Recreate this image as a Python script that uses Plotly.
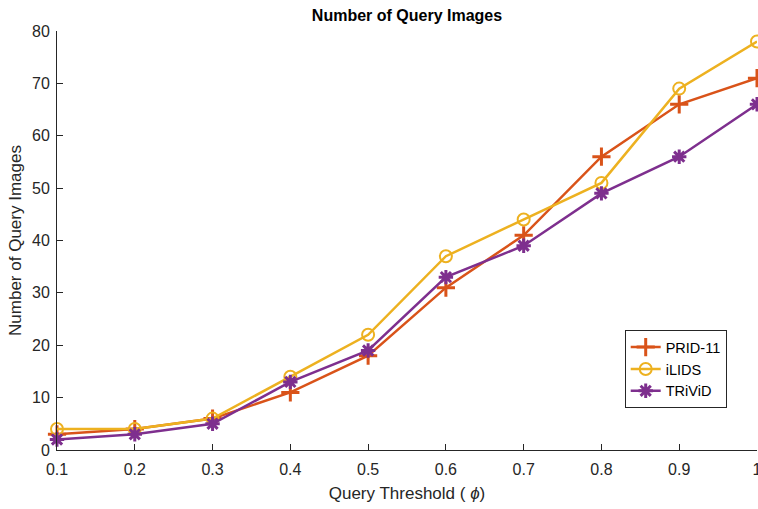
import plotly.graph_objects as go

thresholds = [0.1, 0.2, 0.3, 0.4, 0.5, 0.6, 0.7, 0.8, 0.9, 1.0]
prid11 = [3, 4, 6, 11, 18, 31, 41, 56, 66, 71]
ilids = [4, 4, 6, 14, 22, 37, 44, 51, 69, 78]
trivid = [2, 3, 5, 13, 19, 33, 39, 49, 56, 66]
x_ticks = [0.1, 0.2, 0.3, 0.4, 0.5, 0.6, 0.7, 0.8, 0.9, 1.0]
x_tick_labels = ["0.1", "0.2", "0.3", "0.4", "0.5", "0.6", "0.7", "0.8", "0.9", "1"]
y_ticks = [0, 10, 20, 30, 40, 50, 60, 70, 80]

fig = go.Figure()
fig.add_trace(go.Scatter(
    x=thresholds, y=prid11, name="PRID-11", mode="lines+markers",
    line=dict(color="#D95319", width=2.5),
    marker=dict(symbol="cross-thin", size=13, line=dict(color="#D95319", width=3)),
    cliponaxis=False))
fig.add_trace(go.Scatter(
    x=thresholds, y=ilids, name="iLIDS", mode="lines+markers",
    line=dict(color="#EDB120", width=2.5),
    marker=dict(symbol="circle-open", size=12, line=dict(color="#EDB120", width=2)),
    cliponaxis=False))
fig.add_trace(go.Scatter(
    x=thresholds, y=trivid, name="TRiViD", mode="lines+markers",
    line=dict(color="#7E2F8E", width=2.5),
    marker=dict(symbol="asterisk-open", size=12, line=dict(color="#7E2F8E", width=3)),
    cliponaxis=False))

font_family = "Liberation Sans, Arial, sans-serif"
fig.update_layout(
    width=758, height=509,
    margin=dict(l=57, r=1, t=31, b=59, autoexpand=False),
    paper_bgcolor="white", plot_bgcolor="white",
    font=dict(family=font_family, size=16, color="#262626"),
    title=dict(text="<b>Number of Query Images</b>", x=0.5, xref="paper", xanchor="center",
               y=1 - 15 / 509, yref="container", yanchor="middle",
               font=dict(size=16, color="black")),
    xaxis=dict(range=[0.1, 1.0], tickvals=x_ticks, ticktext=x_tick_labels,
               automargin=False, ticklabeloverflow="allow", ticklabelstandoff=5,
               ticks="inside", ticklen=6, tickwidth=1, tickcolor="#262626",
               showline=True, linecolor="#262626", linewidth=1, mirror=False,
               showgrid=False, zeroline=False,
               title=dict(text="Query Threshold ( <i>ϕ</i>)", standoff=9, font=dict(size=17))),
    yaxis=dict(range=[0, 80], tickvals=y_ticks, automargin=False, ticklabelstandoff=3,
               ticks="inside", ticklen=6, tickwidth=1, tickcolor="#262626",
               showline=True, linecolor="#262626", linewidth=1, mirror=False,
               showgrid=False, zeroline=False,
               title=dict(text="Number of Query Images", standoff=6, font=dict(size=17))),
    legend=dict(x=0.811, y=0.286, xanchor="left", yanchor="top",
                bgcolor="white", bordercolor="#262626", borderwidth=1,
                font=dict(size=14.5, color="black"), tracegroupgap=0, itemwidth=30),
    showlegend=True,
)

fig.write_html("out.html", config={"displayModeBar": False},
               post_script="document.body.style.margin='0';document.body.style.overflow='hidden';")
